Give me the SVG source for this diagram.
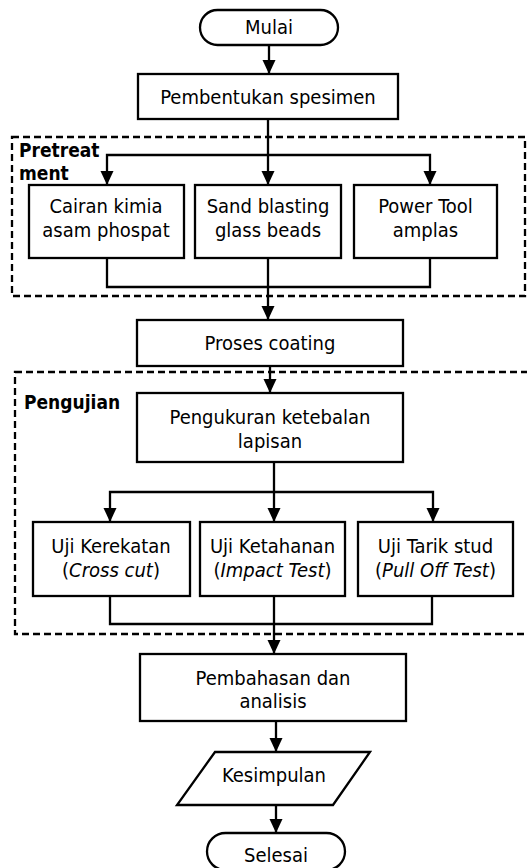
<svg xmlns="http://www.w3.org/2000/svg" width="527" height="868" viewBox="0 0 527 868">
<style>
.b{fill:#fff;stroke:#000;stroke-width:2.3}
.g{fill:none;stroke:#000;stroke-width:2.3;stroke-dasharray:7 4}
.c{fill:none;stroke:#000;stroke-width:2.3}
text{font-family:"DejaVu Sans Condensed","DejaVu Sans",sans-serif;font-stretch:condensed;font-size:20px;fill:#000;text-anchor:middle}
.lb{font-weight:bold;text-anchor:start;font-size:19px}
.i{font-style:italic}
</style>
<defs>
<marker id="ah" markerUnits="userSpaceOnUse" markerWidth="15" markerHeight="15" viewBox="0 0 15 15" refX="14" refY="7.5" orient="auto">
<path d="M0,1 L14,7.5 L0,14 Z" fill="#000"/>
</marker>
</defs>
<rect width="527" height="868" fill="#fff"/>
<g id="pretreatment-group">
<rect class="g" x="12" y="137" width="513" height="159"/>
<text class="lb" x="19" y="157">Pretreat</text>
<text class="lb" x="19" y="180">ment</text>
</g>
<g id="pengujian-group">
<rect class="g" x="15" y="372" width="525" height="262"/>
<text class="lb" x="24" y="409">Pengujian</text>
</g>
<g id="connectors">
<path class="c" d="M269,45 V74" marker-end="url(#ah)"/>
<path class="c" d="M268,119 V185" marker-end="url(#ah)"/>
<path class="c" d="M268,155 H107 V185" marker-end="url(#ah)"/>
<path class="c" d="M268,155 H430 V185" marker-end="url(#ah)"/>
<path class="c" d="M107,258 V287 H430 V258"/>
<path class="c" d="M268,258 V320" marker-end="url(#ah)"/>
<path class="c" d="M270,366 V393" marker-end="url(#ah)"/>
<path class="c" d="M274,462 V522" marker-end="url(#ah)"/>
<path class="c" d="M274,492 H110 V522" marker-end="url(#ah)"/>
<path class="c" d="M274,492 H433 V522" marker-end="url(#ah)"/>
<path class="c" d="M110,596 V624 H432 V596"/>
<path class="c" d="M274,596 V654" marker-end="url(#ah)"/>
<path class="c" d="M276,721 V752" marker-end="url(#ah)"/>
<path class="c" d="M276,805 V833" marker-end="url(#ah)"/>
</g>
<g id="mulai">
<rect class="b" x="200" y="10" width="138" height="35" rx="17.5"/>
<text x="269" y="34">Mulai</text>
</g>
<g id="pembentukan">
<rect class="b" x="138" y="74" width="260" height="45"/>
<text x="268" y="104">Pembentukan spesimen</text>
</g>
<g id="cairan">
<rect class="b" x="29" y="185" width="155" height="73"/>
<text x="106" y="213">Cairan kimia</text>
<text x="106" y="237">asam phospat</text>
</g>
<g id="sand">
<rect class="b" x="195" y="185" width="146" height="73"/>
<text x="268" y="213">Sand blasting</text>
<text x="268" y="237">glass beads</text>
</g>
<g id="power">
<rect class="b" x="354" y="185" width="143" height="73"/>
<text x="425.5" y="213">Power Tool</text>
<text x="425.5" y="237">amplas</text>
</g>
<g id="coating">
<rect class="b" x="137" y="320" width="266" height="46"/>
<text x="270" y="350">Proses coating</text>
</g>
<g id="pengukuran">
<rect class="b" x="137" y="393" width="266" height="69"/>
<text x="270" y="424">Pengukuran ketebalan</text>
<text x="270" y="448">lapisan</text>
</g>
<g id="kerekatan">
<rect class="b" x="33" y="522" width="157" height="74"/>
<text x="111" y="553">Uji Kerekatan</text>
<text x="111" y="577">(<tspan class="i">Cross cut</tspan>)</text>
</g>
<g id="ketahanan">
<rect class="b" x="200" y="522" width="145" height="74"/>
<text x="272.5" y="553">Uji Ketahanan</text>
<text x="272.5" y="577">(<tspan class="i">Impact Test</tspan>)</text>
</g>
<g id="tarik">
<rect class="b" x="358" y="522" width="155" height="74"/>
<text x="435.5" y="553">Uji Tarik stud</text>
<text x="435.5" y="577">(<tspan class="i">Pull Off Test</tspan>)</text>
</g>
<g id="pembahasan">
<rect class="b" x="140" y="654" width="266" height="67"/>
<text x="273" y="685">Pembahasan dan</text>
<text x="273" y="708">analisis</text>
</g>
<g id="kesimpulan">
<polygon class="b" points="215,752 370,752 333,805 177,805"/>
<text x="274" y="782">Kesimpulan</text>
</g>
<g id="selesai">
<rect class="b" x="207" y="833" width="138" height="37" rx="18.5"/>
<text x="276" y="862">Selesai</text>
</g>
</svg>
